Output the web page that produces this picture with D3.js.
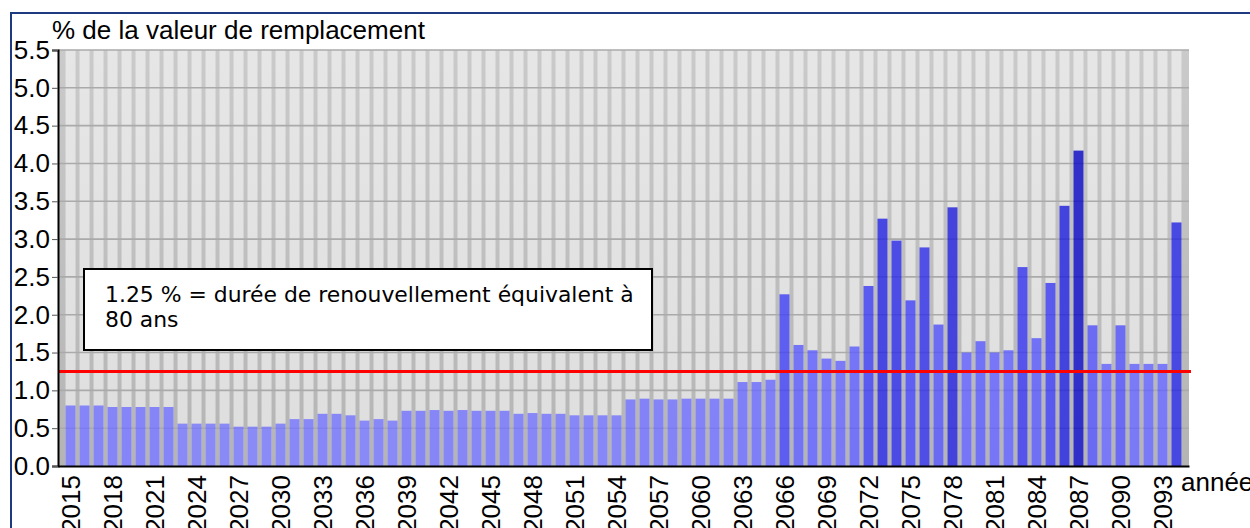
<!DOCTYPE html>
<html>
  <head>
    <meta charset="utf-8">
    <script type="text/javascript" src="https://cdn.jsdelivr.net/npm/d3@7/dist/d3.min.js"></script>
    <style>
      body { margin: 0; background: #fff; }
    </style>
  </head>
  <body>
    <script type="text/javascript">
    // data
    var years = d3.range(2015, 2095);
    var values = [
        0.80, 0.80, 0.80, 0.78, 0.78, 0.78, 0.78, 0.78, 0.56, 0.56,
        0.56, 0.56, 0.52, 0.52, 0.52, 0.56, 0.62, 0.62, 0.69, 0.69,
        0.67, 0.60, 0.62, 0.60, 0.73, 0.73, 0.74, 0.73, 0.74, 0.73,
        0.73, 0.73, 0.69, 0.70, 0.69, 0.69, 0.67, 0.67, 0.67, 0.67,
        0.88, 0.89, 0.88, 0.88, 0.89, 0.89, 0.89, 0.89, 1.11, 1.11,
        1.14, 2.27, 1.60, 1.53, 1.42, 1.39, 1.58, 2.38, 3.27, 2.98,
        2.19, 2.89, 1.87, 3.42, 1.50, 1.65, 1.50, 1.53, 2.63, 1.69,
        2.42, 3.44, 4.17, 1.86, 1.35, 1.86, 1.35, 1.35, 1.35, 3.22
    ];
    var xTickYears = [2015, 2018, 2021, 2024, 2027, 2030, 2033, 2036, 2039, 2042,
                      2045, 2048, 2051, 2054, 2057, 2060, 2063, 2066, 2069, 2072,
                      2075, 2078, 2081, 2084, 2087, 2090, 2093];
    var yTicks = [0, 0.5, 1, 1.5, 2, 2.5, 3, 3.5, 4, 4.5, 5, 5.5];
    var refValue = 1.25;
    var noteLines = ["1.25 % = durée de renouvellement équivalent à", "80 ans"];

    var bars = years.map(function(y, i) { return {year: y, value: values[i]}; });

    var W = 1250, H = 528;
    var plotLeft = 58, plotRight = 1189, plotTop = 50, plotBottom = 466;
    var axisFont = '"Liberation Sans", Arial, sans-serif';

    var svg = d3.select('body').append('svg')
                .attr('width', W)
                .attr('height', H)
                .style('display', 'block');

    var defs = svg.append('defs');
    var g1 = defs.append('linearGradient').attr('id', 'bgGrad')
                 .attr('x1', 0).attr('y1', 0).attr('x2', 0).attr('y2', 1);
    g1.append('stop').attr('offset', '0%').attr('stop-color', '#cacaca');
    g1.append('stop').attr('offset', '100%').attr('stop-color', '#b4b4b4');
    var g2 = defs.append('linearGradient').attr('id', 'stripeGrad')
                 .attr('x1', 0).attr('y1', 0).attr('x2', 0).attr('y2', 1);
    g2.append('stop').attr('offset', '0%').attr('stop-color', '#e6e6e6');
    g2.append('stop').attr('offset', '100%').attr('stop-color', '#dedede');

    var x = d3.scaleBand()
              .domain(years)
              .range([plotLeft, plotRight])
              .paddingInner(0.286)
              .paddingOuter(0.538);
    var y = d3.scaleLinear().domain([0, 5.5]).range([plotBottom, plotTop]);

    var color = d3.scaleLinear()
                  .domain([0.5, 1.4, 2.3, 3.3, 4.2])
                  .range(['#7c7cfc', '#6868fc', '#4545f3', '#2b2be0', '#1111c4'])
                  .clamp(true);

    // outer frame
    svg.append('rect')
       .attr('x', 11).attr('y', 13)
       .attr('width', 1400).attr('height', 700)
       .attr('fill', 'none')
       .attr('stroke', '#1f3a80')
       .attr('stroke-width', 2);

    // plot background
    svg.append('rect')
       .attr('x', plotLeft).attr('y', plotTop)
       .attr('width', plotRight - plotLeft).attr('height', plotBottom - plotTop)
       .attr('fill', 'url(#bgGrad)');

    svg.append('g').selectAll('rect')
       .data(years)
       .enter()
       .append('rect')
       .attr('x', function(d) { return x(d); })
       .attr('y', plotTop)
       .attr('width', x.bandwidth())
       .attr('height', plotBottom - plotTop)
       .attr('fill', 'url(#stripeGrad)');

    // horizontal grid
    svg.append('g').selectAll('line')
       .data(yTicks.filter(function(d) { return d > 0; }))
       .enter()
       .append('line')
       .attr('x1', plotLeft).attr('x2', plotRight)
       .attr('y1', function(d) { return y(d); })
       .attr('y2', function(d) { return y(d); })
       .attr('stroke', '#aaaaaa')
       .attr('stroke-width', 1.6);

    // bars
    svg.append('g').selectAll('rect')
       .data(bars)
       .enter()
       .append('rect')
       .attr('x', function(d) { return x(d.year); })
       .attr('y', function(d) { return y(d.value); })
       .attr('width', x.bandwidth())
       .attr('height', function(d) { return y(0) - y(d.value); })
       .attr('fill', function(d) { return color(d.value); })
       .attr('fill-opacity', 0.85);

    // reference line
    svg.append('line')
       .attr('x1', plotLeft).attr('x2', plotRight + 2)
       .attr('y1', y(refValue)).attr('y2', y(refValue))
       .attr('stroke', '#ff0000')
       .attr('stroke-width', 3);

    // y axis
    var yAxis = svg.append('g')
       .attr('transform', 'translate(' + plotLeft + ',0)')
       .call(d3.axisLeft(y).tickValues(yTicks).tickSize(6).tickPadding(2)
                .tickFormat(d3.format('.1f')));
    yAxis.select('.domain').attr('stroke', '#000').attr('stroke-width', 2);
    yAxis.selectAll('.tick line').attr('stroke', '#555');
    yAxis.selectAll('text')
         .attr('fill', '#000')
         .style('font-family', axisFont)
         .style('font-size', '26px');

    // x axis
    var xAxis = svg.append('g')
       .attr('transform', 'translate(0,' + plotBottom + ')')
       .call(d3.axisBottom(x).tickValues(xTickYears).tickSize(0));
    xAxis.select('.domain').attr('stroke', '#000').attr('stroke-width', 2);
    xAxis.selectAll('text')
         .attr('fill', '#000')
         .attr('transform', 'rotate(-90)')
         .attr('x', -9)
         .attr('y', 0)
         .attr('dy', '0.35em')
         .style('text-anchor', 'end')
         .style('font-family', axisFont)
         .style('font-size', '26px');

    // axis titles
    svg.append('text')
       .attr('x', 52).attr('y', 39)
       .style('font-family', axisFont)
       .style('font-size', '26px')
       .text('% de la valeur de remplacement');

    svg.append('text')
       .attr('x', 1181).attr('y', 491)
       .style('font-family', axisFont)
       .style('font-size', '26px')
       .text('année');

    // note box
    svg.append('rect')
       .attr('x', 84).attr('y', 269)
       .attr('width', 568).attr('height', 81)
       .attr('fill', '#fff')
       .attr('stroke', '#000')
       .attr('stroke-width', 2);

    svg.append('g').selectAll('text')
       .data(noteLines)
       .enter()
       .append('text')
       .attr('x', 105)
       .attr('y', function(d, i) { return 302 + i * 24.7; })
       .style('font-family', '"DejaVu Sans", Verdana, sans-serif')
       .style('font-size', '21.9px')
       .text(function(d) { return d; });
    </script>
  </body>
</html>
